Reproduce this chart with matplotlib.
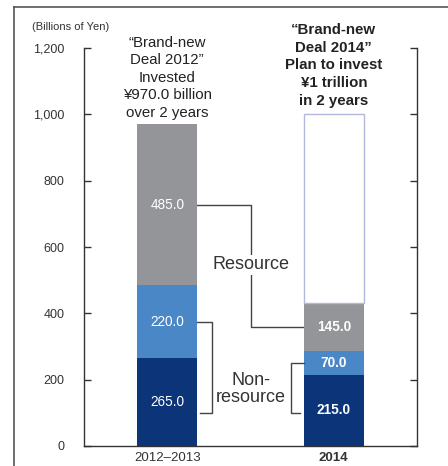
import matplotlib.pyplot as plt
from matplotlib.lines import Line2D
import numpy as np

plt.rcParams['font.family'] = ['Liberation Sans', 'DejaVu Sans']

periods = ['2012–2013', '2014']
non_resource_low = [265.0, 215.0]
non_resource_high = [220.0, 70.0]
resource = [485.0, 145.0]
plan_total = 1000.0
y_ticks = [0, 200, 400, 600, 800, 1000, 1200]

navy = '#0b3479'
blue = '#4a87c7'
grey = '#939598'
text_col = '#333333'

fig = plt.figure(figsize=(4.48, 4.66), dpi=100)
ax = fig.add_axes([84 / 448, 20 / 466, 333 / 448, 398 / 466])

x = np.arange(len(periods))
w = 0.36
low = np.array(non_resource_low)
mid = np.array(non_resource_high)
top = np.array(resource)

ax.bar(x, low, w, color=navy, zorder=2)
ax.bar(x, mid, w, bottom=low, color=blue, zorder=2)
ax.bar(x, top, w, bottom=low + mid, color=grey, zorder=2)

# unfilled part of the 2014 plan up to 1 trillion
stack_2014 = low[1] + mid[1] + top[1]
ax.bar(x[1], plan_total - stack_2014, w, bottom=stack_2014, facecolor='white',
       edgecolor='#b4b8dc', linewidth=1, zorder=2)

# values inside the segments
for i in range(len(periods)):
    weight = 'bold' if i == 1 else 'normal'
    centers = [low[i] / 2, low[i] + mid[i] / 2, low[i] + mid[i] + top[i] / 2]
    for c, v in zip(centers, [low[i], mid[i], top[i]]):
        ax.text(x[i], c, f'{v:.1f}', color='white', ha='center', va='center',
                fontsize=9.8, fontweight=weight, zorder=3)

ax.set_xlim(-0.5, 1.5)
ax.set_ylim(0, 1200)
ax.set_yticks(y_ticks)
ax.set_yticklabels([f'{t:,}' for t in y_ticks])
ax.set_xticks(x)
ax.set_xticklabels(periods)
ax.get_xticklabels()[1].set_fontweight('bold')

for s in ['left', 'right', 'bottom']:
    ax.spines[s].set_color('#333333')
    ax.spines[s].set_linewidth(1)
ax.spines['top'].set_visible(False)
ax.tick_params(axis='y', direction='in', length=5, width=1, color='#333333',
               labelsize=9, labelcolor=text_col, pad=14, right=True)
ax.tick_params(axis='x', length=0, labelsize=9.5, labelcolor=text_col, pad=4)

lc = '#444444'
left_edge = x[1] - w / 2
right_edge = x[0] + w / 2

# Resource connector between the grey segments
r0 = low[0] + mid[0] + top[0] / 2
r1 = low[1] + mid[1] + top[1] / 2
ax.plot([right_edge, 0.5, 0.5, left_edge], [r0, r0, r1, r1], color=lc, lw=1, zorder=1)
ax.text(0.5, 546, 'Resource', ha='center', va='center', fontsize=13, color=text_col,
        bbox=dict(facecolor='white', edgecolor='none', pad=1), zorder=2)

# Non-resource brackets
n0 = low[0] + mid[0] / 2
n1 = low[1] + mid[1] / 2
ax.plot([right_edge, 0.27, 0.27, 0.197], [n0, n0, 100, 100], color=lc, lw=1)
ax.plot([left_edge, 0.743, 0.743, 0.797], [n1, n1, 100, 100], color=lc, lw=1)
ax.text(0.5, 172, 'Non-\nresource', ha='center', va='center', fontsize=13,
        color=text_col, linespacing=1.0)

ax.text(x[0], 1110, '“Brand-new\nDeal 2012”\nInvested\n¥970.0 billion\nover 2 years',
        ha='center', va='center', fontsize=10.8, color='#222222', linespacing=1.33,
        clip_on=False)
ax.text(x[1], 1148, '“Brand-new\nDeal 2014”\nPlan to invest\n¥1 trillion\nin 2 years',
        ha='center', va='center', fontsize=10.8, fontweight='bold', color='#222222',
        linespacing=1.33, clip_on=False)

fig.text(32 / 448, 1 - 27 / 466, '(Billions of Yen)', ha='left', va='center',
         fontsize=8, color=text_col)

# outer frame: top and left rules
fig.add_artist(Line2D([14 / 448, 1], [1 - 7 / 466, 1 - 7 / 466], color='#555555', lw=1.2))
fig.add_artist(Line2D([14 / 448, 14 / 448], [0, 1 - 7 / 466], color='#555555', lw=1.2))

fig.savefig('out.png', dpi=100)
